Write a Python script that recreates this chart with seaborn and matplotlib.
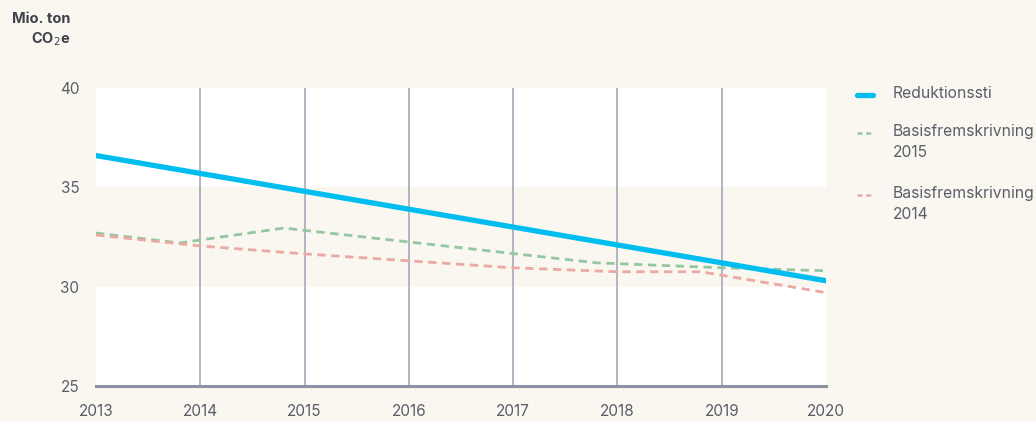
import numpy as np
import pandas as pd
import matplotlib.pyplot as plt
import seaborn as sns
from matplotlib.lines import Line2D

# data
years_red = [2013, 2014, 2015, 2016, 2017, 2018, 2019, 2020]
reduktionssti = [36.6, 35.7, 34.8, 33.9, 33.0, 32.1, 31.2, 30.3]

years_2015 = [2013, 2013.8, 2014.8, 2017.8, 2019, 2020]
basis_2015 = [32.7, 32.2, 32.95, 31.2, 30.95, 30.8]

years_2014 = [2013, 2014, 2015, 2016, 2017, 2018, 2018.8, 2020]
basis_2014 = [32.6, 32.05, 31.65, 31.3, 30.95, 30.75, 30.75, 29.7]

year_ticks = list(range(2013, 2021))
y_ticks = [25, 30, 35, 40]

legend_labels = ["Reduktionssti", "Basisfremskrivning\n2015", "Basisfremskrivning\n2014"]

bg = "#faf6f0"
txt = "#5a5e69"
c_blue = "#00bdf0"
c_green = "#93c7a0"
c_red = "#eba9a3"

sns.set_style("white")
plt.rcParams['font.family'] = ['Inter', 'DejaVu Sans']

W, H = 1036, 421
fig = plt.figure(figsize=(W/100, H/100), dpi=100, facecolor=bg)
ax = fig.add_axes([96/W, 1-386/H, 730/W, 298/H])
ax.set_facecolor("white")

# beige band between 30 and 35
ax.axhspan(30, 35, color=bg, lw=0, zorder=0)

# vertical grid lines
for yr in year_ticks[1:-1]:
    ax.axvline(yr, color="#9ea2b2", lw=1.1, zorder=1)

df_a = pd.DataFrame({"x": years_2015, "y": basis_2015})
df_b = pd.DataFrame({"x": years_2014, "y": basis_2014})
df_c = pd.DataFrame({"x": years_red, "y": reduktionssti})

sns.lineplot(data=df_c, x="x", y="y", ax=ax, color=c_blue, lw=3.8, zorder=4, sort=False)
sns.lineplot(data=df_a, x="x", y="y", ax=ax, color=c_green, lw=2.0, zorder=3, sort=False)
sns.lineplot(data=df_b, x="x", y="y", ax=ax, color=c_red, lw=2.0, zorder=3, sort=False)
for l in ax.get_lines()[-2:]:
    l.set_linestyle((0, (3, 2)))

ax.set_xlim(2013, 2020)
ax.set_ylim(25, 40)
ax.set_xticks(year_ticks)
ax.set_xticklabels([str(y) for y in year_ticks])
ax.set_yticks(y_ticks)
ax.set_xlabel("")
ax.set_ylabel("")
ax.tick_params(axis="both", length=0, labelsize=11, colors=txt)
ax.tick_params(axis="x", pad=13)
ax.tick_params(axis="y", pad=12)
for s in ["top", "left", "right"]:
    ax.spines[s].set_visible(False)
ax.spines["bottom"].set_color("#8c90a2")
ax.spines["bottom"].set_linewidth(2.2)

# legend drawn by hand to the right of the plot
leg_y = [95, 133, 195]
leg_style = [(c_blue, 3.8, "-"), (c_green, 1.8, (0, (2, 1.5))), (c_red, 1.8, (0, (2, 1.5)))]
for yy, (col, lw, ls), lab in zip(leg_y, leg_style, legend_labels):
    fy = 1 - yy/H
    fig.add_artist(Line2D([857/W, 873/W], [fy, fy], color=col, lw=lw, ls=ls,
                          transform=fig.transFigure))
    fig.text(893/W, fy + 9/H, lab, ha="left", va="top", fontsize=11.3,
             color=txt, linespacing=1.5)

fig.text(70/W, 1-12/H, "Mio. ton\nCO$_2$e", ha="right", va="top",
         fontsize=10.5, fontweight="bold", color="#3d414c", linespacing=1.3)

plt.savefig("out.png", dpi=100, facecolor=bg)
